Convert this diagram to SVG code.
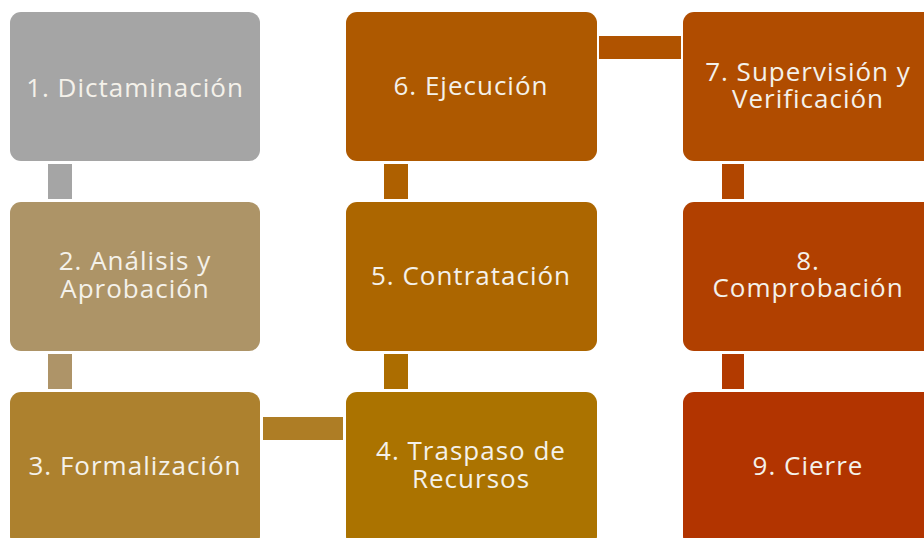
<svg xmlns="http://www.w3.org/2000/svg" width="924" height="538" viewBox="0 0 924 538">
<style>
text{font-family:"Open Sans","Noto Sans","Liberation Sans",sans-serif;font-size:26px;letter-spacing:1px;fill:#f4f1ea;text-anchor:middle}
</style>
<rect width="924" height="538" fill="#ffffff"/>
<g id="connectors">
<rect x="48" y="164" width="24" height="35" fill="#a5a5a5"/>
<rect x="48" y="354" width="24" height="35" fill="#ae9468"/>
<rect x="263" y="417" width="80" height="23" fill="#ae7d25"/>
<rect x="384" y="354" width="24" height="35" fill="#ac6d00"/>
<rect x="384" y="164" width="24" height="35" fill="#ae6000"/>
<rect x="599" y="36" width="82" height="23" fill="#b05300"/>
<rect x="722" y="164" width="22" height="35" fill="#b14600"/>
<rect x="722" y="354" width="22" height="35" fill="#b23a00"/>
</g>
<g id="n1"><rect x="10" y="12" width="250" height="149" rx="11" fill="#a5a5a5"/><text x="135" y="97">1. Dictaminación</text></g>
<g id="n2"><rect x="10" y="202" width="250" height="149" rx="11" fill="#ad9467"/><text x="135" y="270">2. Análisis y<tspan x="135" y="298">Aprobación</tspan></text></g>
<g id="n3"><rect x="10" y="392" width="250" height="155" rx="11" fill="#ad812e"/><text x="135" y="475">3. Formalización</text></g>
<g id="n4"><rect x="346" y="392" width="251" height="155" rx="11" fill="#ab7300"/><text x="471" y="460">4. Traspaso de<tspan x="471" y="488">Recursos</tspan></text></g>
<g id="n5"><rect x="346" y="202" width="251" height="149" rx="11" fill="#ac6600"/><text x="471" y="285">5. Contratación</text></g>
<g id="n6"><rect x="346" y="12" width="251" height="149" rx="11" fill="#ae5900"/><text x="471" y="95">6. Ejecución</text></g>
<g id="n7"><rect x="683" y="12" width="251" height="149" rx="11" fill="#b04c00"/><text x="808" y="81">7. Supervisión y<tspan x="808" y="108">Verificación</tspan></text></g>
<g id="n8"><rect x="683" y="202" width="251" height="149" rx="11" fill="#b14000"/><text x="808" y="270">8.<tspan x="808" y="297">Comprobación</tspan></text></g>
<g id="n9"><rect x="683" y="392" width="251" height="155" rx="11" fill="#b23400"/><text x="808" y="475">9. Cierre</text></g>
</svg>
